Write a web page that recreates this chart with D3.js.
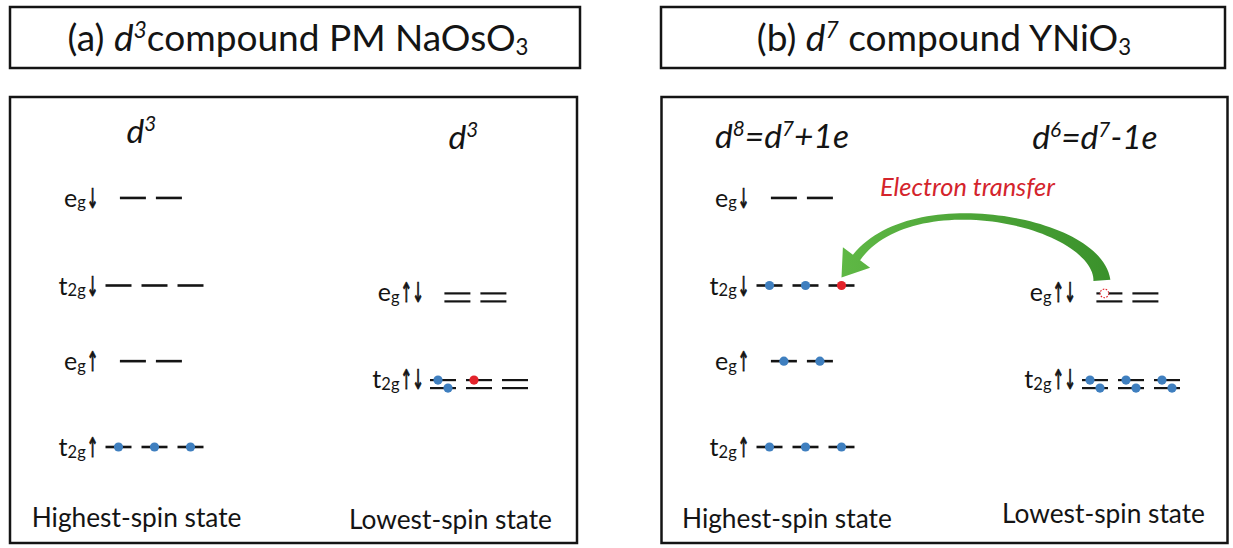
<!DOCTYPE html>
<html><head><meta charset="utf-8">
<script src="https://cdn.jsdelivr.net/npm/d3@7"></script>
<style>body{margin:0;background:#fff}</style>
</head><body><svg id="c" width="1233" height="548"></svg>
<script>
// ---------------- data ----------------
const panelTitles = ["(a) *d^3*compound PM NaOsO_3", "(b) *d^7* compound YNiO_3"];
const highSpinHeaders = ["*d^3*", "*d^8=d^7+1e*"];
const lowSpinHeaders = ["*d^3*", "*d^6=d^7-1e*"];
const stateNames = ["Highest-spin state", "Lowest-spin state"];
const hsLevelNames = ["e_g", "t_2g", "e_g", "t_2g"];
const hsLevelSpins = ["↓", "↓", "↑", "↑"];
const hsLevelEnergy = [2.93, 1.90, 1.01, 0.0];
const lsLevelNames = ["e_g", "t_2g"];
const lsLevelSpins = ["↑↓", "↑↓"];
const lsLevelEnergy = [1.76, 0.74];
// 0 empty, 1 electron, 2 transferred electron, 3 hole
const hsOccupation = [
  [[0,0],[0,0,0],[0,0],[1,1,1]],
  [[0,0],[1,1,2],[1,1],[1,1,1]]
];
const lsSpinUp = [
  [[0,0],[1,2,0]],
  [[3,0],[1,1,1]]
];
const lsSpinDown = [
  [[0,0],[1,0,0]],
  [[0,0],[1,1,1]]
];
const transferLabel = "Electron transfer";
const transferFrom = {panel:1, level:0, slot:0};   // hole in low-spin e_g
const transferTo = {panel:1, level:1, slot:2};     // red electron in high-spin t2g↓

// ---------------- layout ----------------
const svg = d3.select('#c');
const FONT = 'Lato, "Open Sans", sans-serif';
const ARROWFONT = '"DejaVu Sans", sans-serif';
const INK = '#141414', BLUE = '#3f7fbf', RED = '#e3232b';
const titleBoxes = [[10, 580], [661, 1225]];
const mainBoxes = [[10, 577], [661.5, 1227.5]];
const panelX = [10, 661.5];
const y = d3.scaleLinear().domain([0, 3]).range([447, 192]);
const egSlots = [0.4, 1.4], t2gSlots = [0, 1, 2];
const SLOT = 36, DASH = 26;
const hsSlot0 = [108.5, 108], lsSlot0 = [433, 433.5];
const xScale = (x0) => d3.scaleLinear().domain([0, 1]).range([x0, x0 + SLOT]);
const hsX = [0,1].map(p => xScale(panelX[p] + hsSlot0[p]));
const lsX = [0,1].map(p => xScale(panelX[p] + lsSlot0[p]));

function parseRich(str) {
  const runs = []; let italic = false, i = 0;
  while (i < str.length) {
    const c = str[i];
    if (c === '*') { italic = !italic; i++; continue; }
    if (c === '^') { runs.push({t: str[i+1], it: italic, k: 'sup'}); i += 2; continue; }
    if (c === '_') { let j = i + 1; while (j < str.length && /[0-9a-z]/i.test(str[j])) j++;
      runs.push({t: str.slice(i+1, j), it: italic, k: 'sub'}); i = j; continue; }
    let j = i;
    while (j < str.length && !'*^_'.includes(str[j])) j++;
    runs.push({t: str.slice(i, j), it: italic, k: 'n'}); i = j;
  }
  return runs;
}
function richText(parent, str, o) {
  const t = parent.append('text').attr('x', o.x).attr('y', o.y)
    .attr('text-anchor', o.anchor || 'start').attr('font-family', FONT)
    .attr('font-size', o.size).attr('fill', o.fill || INK);
  let cur = 0;
  parseRich(str).forEach(r => {
    let scale = 1, shift = 0;
    if (r.k === 'sup') { scale = o.supScale || 0.62; shift = -(o.supShift || 0.36); }
    else if (r.k === 'sub') { scale = o.subScale || 0.65; shift = o.subShift || 0.08; }
    const ts = t.append('tspan').text(r.t).attr('font-size', o.size * scale);
    const dy = (shift - cur) * o.size; cur = shift;
    if (dy) ts.attr('dy', dy);
    if (r.it || o.italic) ts.attr('font-style', 'italic');
  });
  return t;
}
function fit(str, o, target) {
  const t = richText(svg, str, o);
  const w = t.node().getComputedTextLength(); t.remove();
  return o.size * target / w;
}
// orbital label: name with subscript, then narrow spin arrows, right-aligned at x
const ARROW_SX = 0.52;
function levelLabel(x, yb, name, spins) {
  const a = svg.append('text').attr('transform', `translate(${x},${yb + 1}) scale(${ARROW_SX},1)`)
    .attr('text-anchor', 'end').attr('font-family', ARROWFONT).attr('font-size', 27)
    .attr('fill', INK).attr('stroke', INK).attr('stroke-width', 1.1).text(spins);
  const aw = a.node().getComputedTextLength() * ARROW_SX;
  richText(svg, name, {x: x - aw - 1, y: yb, size: 25, subScale: 0.66, subShift: 0.06, anchor: 'end'});
}

// frames
[0,1].forEach(p => {
  svg.append('rect').attr('x', titleBoxes[p][0]).attr('y', 7)
    .attr('width', titleBoxes[p][1] - titleBoxes[p][0]).attr('height', 61)
    .attr('fill', 'none').attr('stroke', INK).attr('stroke-width', 2.5);
  svg.append('rect').attr('x', mainBoxes[p][0]).attr('y', 97)
    .attr('width', mainBoxes[p][1] - mainBoxes[p][0]).attr('height', 446)
    .attr('fill', 'none').attr('stroke', INK).attr('stroke-width', 2.5);
});

// titles
const titleSize = fit(panelTitles[0], {x:0, y:0, size:34, subScale:0.6, subShift:0.1}, 461);
const titleCenters = [298, 944];
panelTitles.forEach((s, p) => richText(svg, s, {x: titleCenters[p], y: 51, size: titleSize,
  anchor: 'middle', subScale: 0.6, subShift: 0.1}));

// column headers
const headSize = fit(highSpinHeaders[1], {x:0, y:0, size:30}, 134);
const hsHeadX = [131.5, 120.5], lsHeadX = [453.5, 433.5];
const hsHeadY = [143, 148], lsHeadY = [149, 149];
[0,1].forEach(p => {
  richText(svg, highSpinHeaders[p], {x: panelX[p] + hsHeadX[p], y: hsHeadY[p], size: headSize, anchor: 'middle'});
  richText(svg, lowSpinHeaders[p], {x: panelX[p] + lsHeadX[p], y: lsHeadY[p], size: headSize, anchor: 'middle'});
});

// state labels
const stateSize = fit(stateNames[0], {x:0, y:0, size:26}, 210);
const stateX = [[21.7, 339], [20.5, 340.5]], stateY = [[527, 529], [528, 523]];
[0,1].forEach(p => stateNames.forEach((s, c) =>
  richText(svg, s, {x: panelX[p] + stateX[p][c], y: stateY[p][c], size: stateSize})));

// level labels
[0,1].forEach(p => {
  hsLevelNames.forEach((s, i) => levelLabel(hsX[p](0) - 20, y(hsLevelEnergy[i]) + 9, s, hsLevelSpins[i]));
  lsLevelNames.forEach((s, i) => levelLabel(lsX[p](0) - 19, y(lsLevelEnergy[i]) + 4, s, lsLevelSpins[i]));
});

// levels
const lineG = svg.append('g').attr('stroke', INK);
const slotsFor = n => n === 3 ? t2gSlots : egSlots;
[0,1].forEach(p => {
  hsOccupation[p].forEach((occ, i) => slotsFor(occ.length).forEach(s => {
    const xc = hsX[p](s);
    lineG.append('line').attr('x1', xc - DASH/2).attr('x2', xc + DASH/2)
      .attr('y1', y(hsLevelEnergy[i])).attr('y2', y(hsLevelEnergy[i])).attr('stroke-width', 2.6);
  }));
  lsSpinUp[p].forEach((occ, i) => slotsFor(occ.length).forEach(s => {
    const xc = lsX[p](s);
    [-4, 4].forEach(d => lineG.append('line').attr('x1', xc - DASH/2).attr('x2', xc + DASH/2)
      .attr('y1', y(lsLevelEnergy[i]) + d).attr('y2', y(lsLevelEnergy[i]) + d).attr('stroke-width', 2.2));
  }));
});

// transfer arrow
const hole = [lsX[transferFrom.panel](egSlots[transferFrom.slot]) - 5, y(lsLevelEnergy[transferFrom.level]) - 4];
const target = [hsX[transferTo.panel](t2gSlots[transferTo.slot]), y(hsLevelEnergy[transferTo.level])];
const P0 = [hole[0] - 2.5, hole[1] - 13];
const tip = [target[0], target[1] - 8];
const dir = [-0.6, 0.8];
const B = [tip[0] - 25 * dir[0], tip[1] - 25 * dir[1]];
const P3 = B, P2 = [B[0] + 92 * 0.6, B[1] - 92 * 0.8], P1 = [P0[0] - 5, P0[1] - 60];
const bez = (t, i) => (1-t)**3*P0[i] + 3*(1-t)**2*t*P1[i] + 3*(1-t)*t*t*P2[i] + t**3*P3[i];
const dbez = (t, i) => 3*(1-t)**2*(P1[i]-P0[i]) + 6*(1-t)*t*(P2[i]-P1[i]) + 3*t*t*(P3[i]-P2[i]);
const wq = t => (1-t)**2*17 + 2*(1-t)*t*1 + t*t*9;
const outer = [], inner = [];
d3.range(0, 61).forEach(k => {
  const t = k / 60, px = bez(t, 0), py = bez(t, 1);
  let tx = dbez(t, 0), ty = dbez(t, 1); const L = Math.hypot(tx, ty); tx /= L; ty /= L;
  const nx = -ty, ny = tx, h = wq(t) / 2;
  outer.push([px + nx*h, py + ny*h]); inner.push([px - nx*h, py - ny*h]);
});
const n = [-dir[1], dir[0]];
const headOuter = [B[0] + 17*n[0], B[1] + 17*n[1]], headInner = [B[0] - 17*n[0], B[1] - 17*n[1]];
const arrowPts = outer.concat([headOuter, tip, headInner], inner.reverse());
const grad = svg.append('defs').append('linearGradient').attr('id', 'gr')
  .attr('gradientUnits', 'userSpaceOnUse').attr('x1', 840).attr('x2', 1110).attr('y1', 0).attr('y2', 0);
grad.append('stop').attr('offset', 0).attr('stop-color', '#5fb845');
grad.append('stop').attr('offset', 1).attr('stop-color', '#3a912b');
svg.append('path').attr('d', d3.line()(arrowPts) + 'Z').attr('fill', 'url(#gr)');

// transfer label
const trSize = fit(transferLabel, {x:0, y:0, size:22, italic:true}, 175);
richText(svg, transferLabel, {x: 880, y: 196, size: trSize, italic: true, fill: '#d4242c'});

// electrons
const dotColor = v => v === 2 ? RED : BLUE;
const dotG = svg.append('g');
function dot(cx, cy, v) {
  if (v === 3) {
    dotG.append('circle').attr('cx', cx).attr('cy', cy).attr('r', 4.3).attr('fill', '#fff')
      .attr('stroke', RED).attr('stroke-width', 1.1).attr('stroke-dasharray', '1.6,1.4');
  } else if (v) {
    dotG.append('circle').attr('cx', cx).attr('cy', cy).attr('r', 4.6).attr('fill', dotColor(v));
  }
}
[0,1].forEach(p => {
  hsOccupation[p].forEach((occ, i) => slotsFor(occ.length).forEach((s, k) =>
    dot(hsX[p](s), y(hsLevelEnergy[i]), occ[k])));
  lsSpinUp[p].forEach((occ, i) => slotsFor(occ.length).forEach((s, k) =>
    dot(lsX[p](s) - 5, y(lsLevelEnergy[i]) - 4, occ[k])));
  lsSpinDown[p].forEach((occ, i) => slotsFor(occ.length).forEach((s, k) =>
    dot(lsX[p](s) + 5, y(lsLevelEnergy[i]) + 4, occ[k])));
});
</script></body></html>
